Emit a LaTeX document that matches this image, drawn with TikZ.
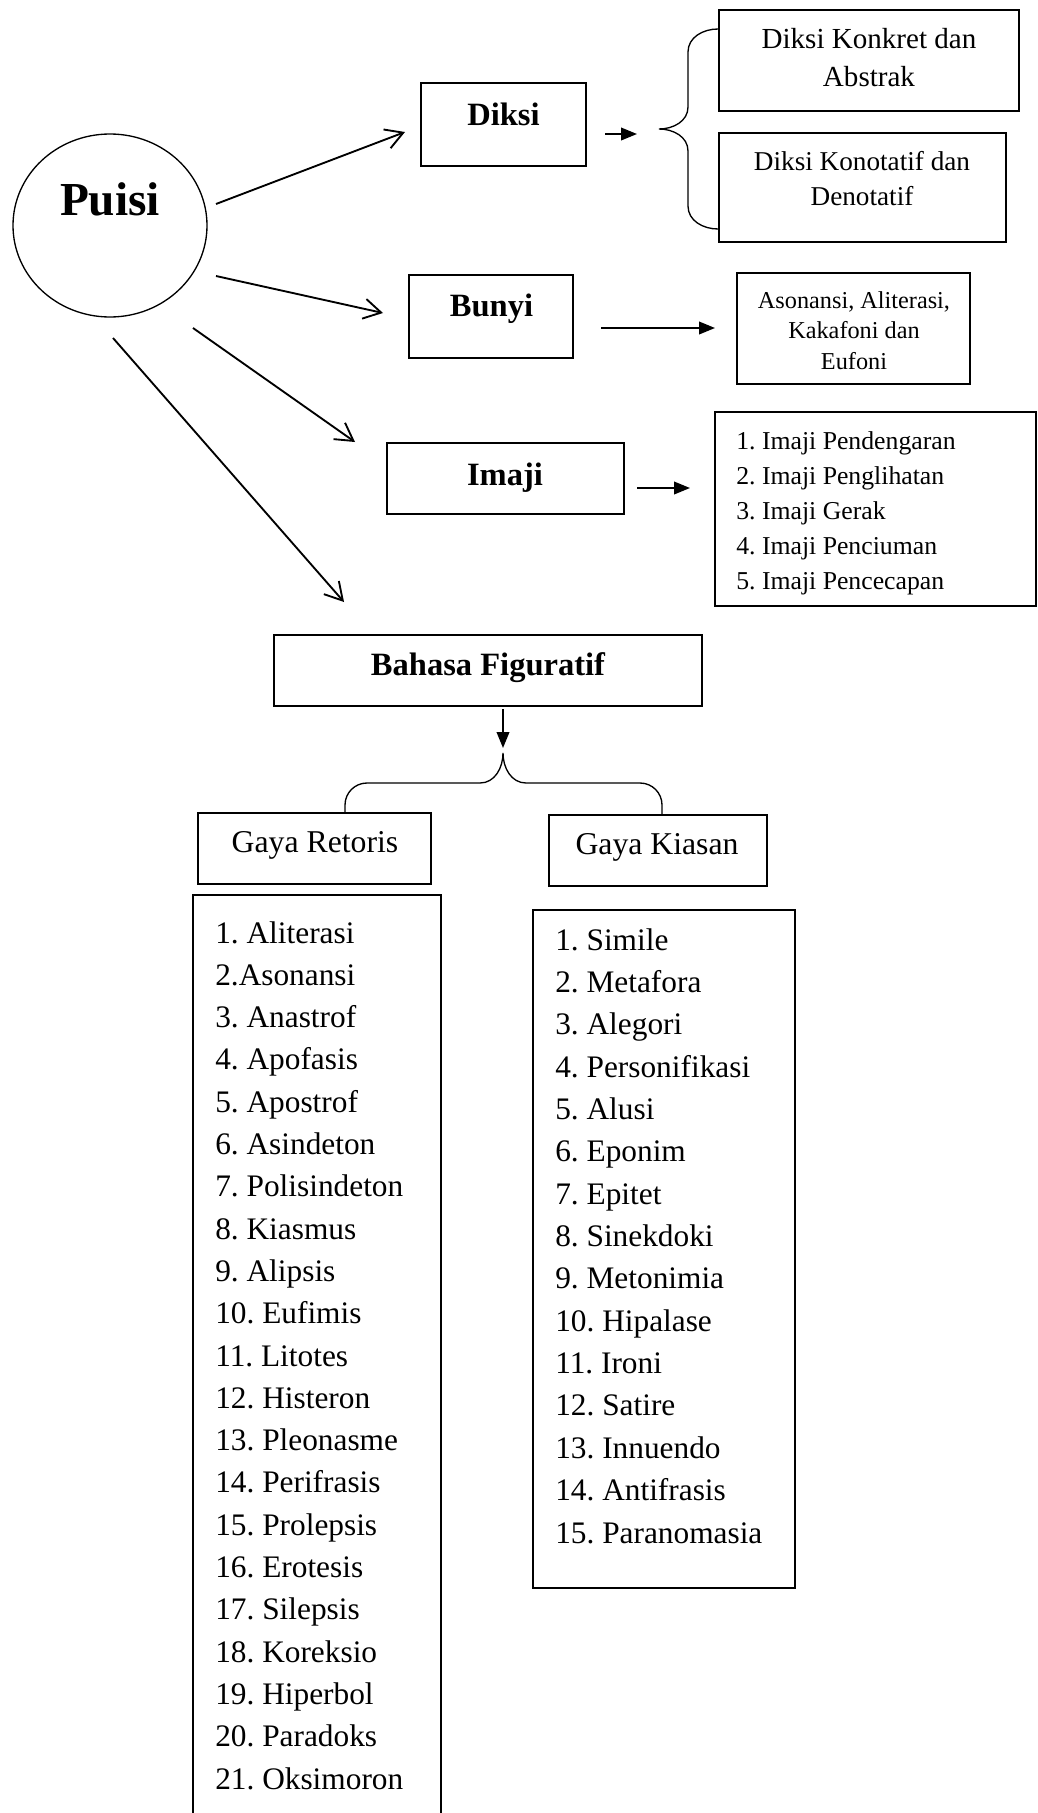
\documentclass[tikz,border=0pt]{standalone}
\usepackage{fontspec}
\setmainfont{Liberation Serif}
\usetikzlibrary{arrows.meta,shapes.geometric}
\frenchspacing
\begin{document}
\begin{tikzpicture}[x=0.75pt,y=-0.75pt,
  box/.style={draw,line width=1.5pt,inner sep=0pt},
  sz/.style 2 args={minimum width={#1*0.75pt},minimum height={#2*0.75pt}},
  lbl/.style={inner sep=0pt,anchor=base,font=\fontsize{24.4pt}{29pt}\selectfont\bfseries},
  gaya/.style={inner sep=0pt,anchor=base,font=\fontsize{23.8pt}{29pt}\selectfont},
  konk/.style={inner sep=0pt,anchor=base,font=\fontsize{21.8pt}{26pt}\selectfont},
  kono/.style={inner sep=0pt,anchor=base,font=\fontsize{20.4pt}{24pt}\selectfont},
  small/.style={inner sep=0pt,anchor=base,font=\fontsize{18.2pt}{22pt}\selectfont},
  imitem/.style={inner sep=0pt,anchor=base west,font=\fontsize{19.3pt}{23pt}\selectfont},
  item/.style={inner sep=0pt,anchor=base west,font=\fontsize{23.5pt}{28pt}\selectfont},
  barb/.style={line width=1.4pt,-{Straight Barb[length=13pt,width=15pt,line width=1.4pt]}},
  farrow/.style={line width=1.3pt,-{Triangle[length=12pt,width=9.5pt]}},
  brace/.style={line width=1pt}
]
\useasboundingbox (0,0) rectangle (1038,1813);

% Puisi
\node[draw,ellipse,line width=1pt,inner sep=0pt,sz={194}{183}] (puisi) at (110,225.5) {};
\node[inner sep=0pt,anchor=base,font=\fontsize{35.5pt}{40pt}\selectfont\bfseries] (puisiT) at (110,215) {Puisi};

% level-1 boxes
\node[box,sz={165}{83}] (diksi) at (503.5,124.5) {};
\node[lbl] (diksiT) at (503.5,125) {Diksi};
\node[box,sz={164}{83}] (bunyi) at (491,316.5) {};
\node[lbl] (bunyiT) at (491.5,316) {Bunyi};
\node[box,sz={237}{71}] (imaji) at (505.5,478.5) {};
\node[lbl] (imajiT) at (505,485) {Imaji};
\node[box,sz={428}{71}] (bahasa) at (488,670.5) {};
\node[lbl] (bahasaT) at (488,675) {Bahasa Figuratif};

% Diksi children
\node[box,sz={300}{101}] (konkret) at (869,60.5) {};
\node[konk] (konkret1) at (869,48) {Diksi Konkret dan};
\node[konk] (konkret2) at (869,86) {Abstrak};
\node[box,sz={287}{109}] (konotatif) at (862.5,187.5) {};
\node[kono] (konotatif1) at (862,170) {Diksi Konotatif dan};
\node[kono] (konotatif2) at (862,205) {Denotatif};

% Bunyi child
\node[box,sz={233}{111}] (asonansi) at (853.5,328.5) {};
\node[small] (ason1) at (854,308) {Asonansi, Aliterasi,};
\node[small] (ason2) at (854,338) {Kakafoni dan};
\node[small] (ason3) at (854,369) {Eufoni};

% Imaji child
\node[box,sz={321}{194}] (imajilist) at (875.5,509) {};
\foreach \t [count=\i] in {1. Imaji Pendengaran,2. Imaji Penglihatan,3. Imaji Gerak,4. Imaji Penciuman,5. Imaji Pencecapan}
  \node[imitem] (im\i) at (736,{449+35*(\i-1)}) {\t};

% Gaya boxes
\node[box,sz={233}{71}] (retoris) at (314.5,848.5) {};
\node[gaya] (retorisT) at (315,852) {Gaya Retoris};
\node[box,sz={218}{71}] (kiasan) at (658,850.5) {};
\node[gaya] (kiasanT) at (657,854) {Gaya Kiasan};

% lists
\node[box,sz={248}{920}] (retlist) at (317,1355) {};
\foreach \t [count=\i] in {1. Aliterasi,2.Asonansi,3. Anastrof,4. Apofasis,5. Apostrof,6. Asindeton,7. Polisindeton,8. Kiasmus,9. Alipsis,10. Eufimis,11. Litotes,12. Histeron,13. Pleonasme,14. Perifrasis,15. Prolepsis,16. Erotesis,17. Silepsis,18. Koreksio,19. Hiperbol,20. Paradoks,21. Oksimoron}
  \node[item] (r\i) at (215,{943+42.3*(\i-1)}) {\t};
\node[box,sz={262}{678}] (kialist) at (664,1249) {};
\foreach \t [count=\i] in {1. Simile,2. Metafora,3. Alegori,4. Personifikasi,5. Alusi,6. Eponim,7. Epitet,8. Sinekdoki,9. Metonimia,10. Hipalase,11. Ironi,12. Satire,13. Innuendo,14. Antifrasis,15. Paranomasia}
  \node[item] (k\i) at (555,{950+42.36*(\i-1)}) {\t};

% arrows from Puisi
\coordinate (pD) at (216,204);   \coordinate (eD) at (405,132);
\coordinate (pB) at (216,276);   \coordinate (eB) at (383,313);
\coordinate (pI) at (193,328);   \coordinate (eI) at (355,442);
\coordinate (pF) at (113,338);   \coordinate (eF) at (344,602);
\draw[barb] (pD) -- (eD);
\draw[barb] (pB) -- (eB);
\draw[barb] (pI) -- (eI);
\draw[barb] (pF) -- (eF);

% filled arrows
\coordinate (dS) at (605,134); \coordinate (dE) at (637,134);
\coordinate (bS) at (601,328); \coordinate (bE) at (715,328);
\coordinate (iS) at (637,488); \coordinate (iE) at (690,488);
\coordinate (fS) at (503,709); \coordinate (fE) at (503,748);
\draw[farrow] (dS) -- (dE);
\draw[farrow] (bS) -- (bE);
\draw[farrow] (iS) -- (iE);
\draw[farrow] (fS) -- (fE);

% brace for Diksi
\coordinate (tipD) at (659,129);
\draw[brace] (718,29) to[out=180,in=90] (688,52) -- (688,107)
  to[out=-90,in=0] (tipD) to[out=0,in=90] (688,151) -- (688,206)
  to[out=-90,in=180] (718,229);

% brace below Bahasa Figuratif
\coordinate (tipF) at (503,753);
\draw[brace] (345,813) -- (345,805) to[out=90,in=180] (367,783) -- (480,783)
  to[out=0,in=-90] (tipF) to[out=-90,in=180] (526,783) -- (640,783)
  to[out=0,in=90] (662,805) -- (662,814);
\end{tikzpicture}
\end{document}
